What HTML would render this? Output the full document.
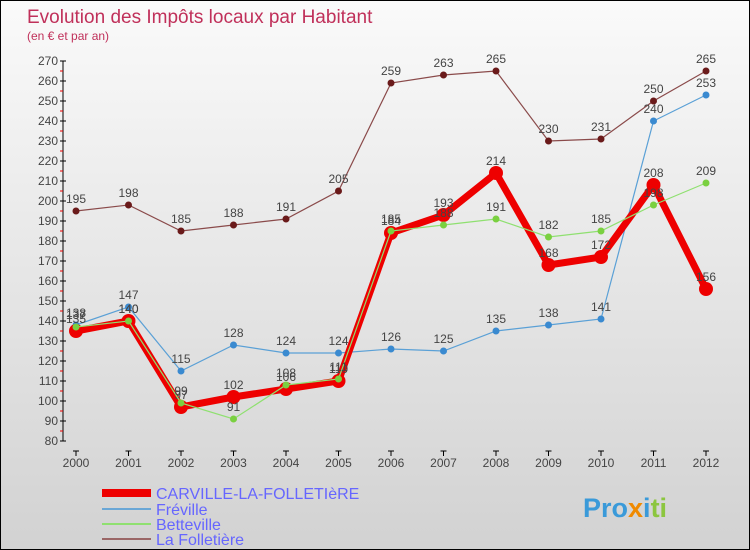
<!DOCTYPE html>
<html><head><meta charset="utf-8"><style>
body{margin:0}
#wrap{width:748px;height:548px;border:1px solid #000;background:linear-gradient(#fafafa,#d2d2d2);position:relative;overflow:hidden;font-family:"Liberation Sans",sans-serif}
</style></head><body>
<div id="wrap">
<svg id="svg" width="748" height="548" style="position:absolute;left:0;top:0">
<text x="26" y="22" font-size="19" fill="#c0305a">Evolution des Impôts locaux par Habitant</text>
<text x="26" y="39" font-size="12" fill="#c0305a">(en € et par an)</text>
<g id="axes"></g><g id="series"></g>
<g>
<line x1="101" y1="492" x2="150" y2="492" stroke="#e00" stroke-width="8"/>
<text x="155" y="498" font-size="16" fill="#6666ff">CARVILLE-LA-FOLLETIèRE</text>
<line x1="101" y1="508" x2="150" y2="508" stroke="#6aa7d6" stroke-width="2"/>
<text x="155" y="514" font-size="16" fill="#6666ff">Fréville</text>
<line x1="101" y1="523" x2="150" y2="523" stroke="#8fe070" stroke-width="2"/>
<text x="155" y="529" font-size="16" fill="#6666ff">Betteville</text>
<line x1="101" y1="538" x2="150" y2="538" stroke="#9a6666" stroke-width="2"/>
<text x="155" y="544" font-size="16" fill="#6666ff">La Folletière</text>
</g>
<text x="582" y="516" font-size="27" font-weight="bold"><tspan fill="#3a9ad9">Pro</tspan><tspan fill="#f08a00">x</tspan><tspan fill="#3a9ad9">i</tspan><tspan fill="#8cc63f">ti</tspan></text>
</svg>
</div>
<script>
const years=[2000,2001,2002,2003,2004,2005,2006,2007,2008,2009,2010,2011,2012];
const carville=[135,140,97,102,106,110,184,193,214,168,172,208,156];
const freville=[138,147,115,128,124,124,126,125,135,138,141,240,253];
const betteville=[137,140,99,91,108,111,185,188,191,182,185,198,209];
const folletiere=[195,198,185,188,191,205,259,263,265,230,231,250,265];
const yTicks=[80,90,100,110,120,130,140,150,160,170,180,190,200,210,220,230,240,250,260,270];
const NS="http://www.w3.org/2000/svg";
const X=i=>75+i*52.5, Y=v=>440-(v-80)*2;
function mk(t,a,p){const e=document.createElementNS(NS,t);for(const k in a)e.setAttribute(k,a[k]);p.appendChild(e);return e;}
const ax=document.getElementById('axes');
const yl=mk('line',{x1:62,y1:Y(270),x2:62,y2:Y(80),stroke:'#000'},ax);


yTicks.forEach(v=>{
 mk('line',{x1:59,y1:Y(v),x2:65,y2:Y(v),stroke:'#000'},ax);
 if(v<270)mk('line',{x1:59,y1:Y(v+5),x2:62,y2:Y(v+5),stroke:'#e00'},ax);
 const t=mk('text',{x:57,y:Y(v)+4,'font-size':12,'text-anchor':'end',fill:'#444'},ax);t.textContent=v;
 
 
});
years.forEach((y,i)=>{
 mk('line',{x1:X(i)-3,y1:450,x2:X(i)+3,y2:450,stroke:'#000'},ax);
 mk('line',{x1:X(i),y1:450,x2:X(i),y2:455,stroke:'#000'},ax);
 const t=mk('text',{x:X(i),y:466,'font-size':12,'text-anchor':'middle',fill:'#444'},ax);t.textContent=y;
 
 
});
const sg=document.getElementById('series');
function series(d,name,col,w,r,dot){
 const g=mk('g',{},sg);
 
 
 const pl=mk('polyline',{points:d.map((v,i)=>X(i)+','+Y(v)).join(' '),fill:'none',stroke:col,'stroke-width':w},g);
 
 
 d.forEach((v,i)=>{
  const c=mk('circle',{cx:X(i),cy:Y(v),r:r,fill:dot},g);
  
  
  const t=mk('text',{x:X(i),y:Y(v)-8,'font-size':12,'text-anchor':'middle',fill:'#444'},g);t.textContent=v;
  
  
 });
}
series(folletiere,'la-folletiere','#8a4a4a',1.2,3.5,'#6a1a1a');
series(freville,'freville','#5aa0d6',1.2,3.5,'#3a8ad0');
series(carville,'carville','#ee0000',7,7,'#ee0000');
series(betteville,'betteville','#8fe070',1.2,3.5,'#7ad040');
</script>
</body></html>
